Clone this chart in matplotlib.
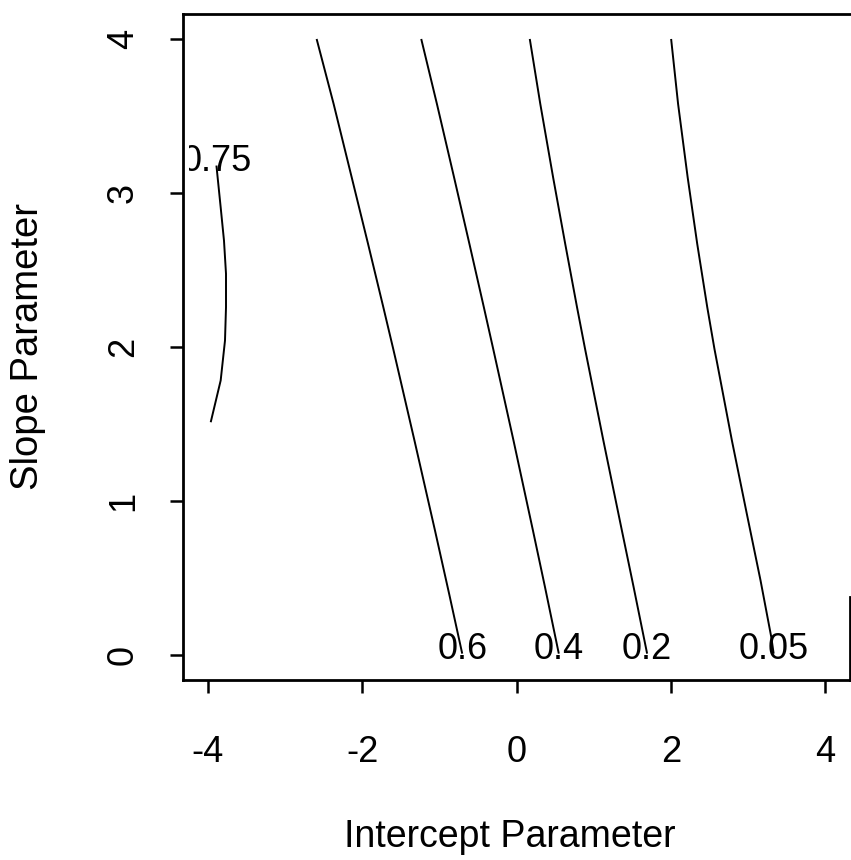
import matplotlib
matplotlib.use("Agg")
import matplotlib.pyplot as plt
import matplotlib.transforms as mtransforms
from matplotlib.patches import Rectangle

plt.rcParams['font.family'] = ['Liberation Sans', 'DejaVu Sans']

# ---- data ----
x_ticks = [-4, -2, 0, 2, 4]
y_ticks = [0, 1, 2, 3, 4]
x_label = "Intercept Parameter"
y_label = "Slope Parameter"

# contour levels and their traced lines (Intercept, Slope)
lev_075_x = [-3.887, -3.832, -3.789, -3.763, -3.763, -3.776, -3.832, -3.961]
lev_075_y = [3.177, 2.906, 2.690, 2.475, 2.258, 2.042, 1.783, 1.512]

lev_06_x = [-2.589, -2.369, -2.135, -1.923, -1.725, -1.597, -1.322, -1.056, -0.873, -0.703]
lev_06_y = [3.998, 3.577, 3.101, 2.669, 2.258, 1.988, 1.394, 0.810, 0.400, 0.011]

lev_04_x = [-1.234, -1.031, -0.809, -0.610, -0.423, -0.302, -0.039, 0.213, 0.369, 0.548]
lev_04_y = [3.998, 3.577, 3.101, 2.669, 2.258, 1.988, 1.394, 0.810, 0.443, 0.011]

lev_02_x = [0.172, 0.308, 0.474, 0.631, 0.784, 0.888, 1.125, 1.365, 1.517, 1.692]
lev_02_y = [3.998, 3.577, 3.101, 2.669, 2.258, 1.988, 1.394, 0.810, 0.443, 0.011]

lev_005_x = [2.003, 2.093, 2.217, 2.341, 2.471, 2.564, 2.790, 2.983, 3.161, 3.300, 3.331]
lev_005_y = [3.998, 3.577, 3.101, 2.669, 2.258, 1.988, 1.394, 0.919, 0.486, 0.119, 0.011]

level_labels = ["0.75", "0.6", "0.4", "0.2", "0.05"]
level_xs = [lev_075_x, lev_06_x, lev_04_x, lev_02_x, lev_005_x]
level_ys = [lev_075_y, lev_06_y, lev_04_y, lev_02_y, lev_005_y]
label_at_start = [True, False, False, False, False]

# ---- figure ----
W, H = 851, 860
fig = plt.figure(figsize=(W / 100, H / 100), dpi=100)
left_px, right_px, top_px, bottom_px = 183, 850, 14, 680
ax = fig.add_axes([left_px / W, 1 - bottom_px / H,
                   (right_px - left_px) / W, (bottom_px - top_px) / H])
ax.set_xlim(-4.32, 4.32)
ax.set_ylim(-0.16, 4.16)

clip_rect = Rectangle((-4.245, -0.16), 8.565, 4.32, transform=ax.transData,
                      fill=False, visible=False)
ax.add_patch(clip_rect)

for xs, ys, lab, at_start in zip(level_xs, level_ys, level_labels, label_at_start):
    ax.plot(xs, ys, color='black', lw=1.4, solid_capstyle='butt')
    lx, ly = (xs[0], ys[0]) if at_start else (xs[-1], ys[-1])
    tr = mtransforms.offset_copy(ax.transData, fig=fig, x=0, y=-5, units='dots')
    t = ax.text(lx, ly, lab, transform=tr, ha='center', va='baseline',
                fontsize=26, color='black', clip_on=True, zorder=3)
    t.set_clip_path(clip_rect)

for s in ax.spines.values():
    s.set_linewidth(2.0)
ax.spines['right'].set_bounds(-0.16, 0.376)

ax.set_xticks(x_ticks)
ax.set_yticks(y_ticks)
ax.set_xticklabels([str(v) for v in x_ticks])
ax.set_yticklabels([str(v) for v in y_ticks])
ax.tick_params(axis='both', direction='out', length=9.4, width=1.8,
               labelsize=26, top=False, right=False)
ax.tick_params(axis='x', pad=30)
ax.tick_params(axis='y', pad=21)
for t in ax.get_yticklabels():
    t.set_rotation(90)
    t.set_va('center')
    t.set_ha('right')

ax.set_xlabel(x_label, fontsize=27)
ax.set_ylabel(y_label, fontsize=27.5)
ax.xaxis.set_label_coords(0.49, -0.209)
ax.yaxis.set_label_coords(-0.205, 0.5)

fig.savefig("out.png", dpi=100)
